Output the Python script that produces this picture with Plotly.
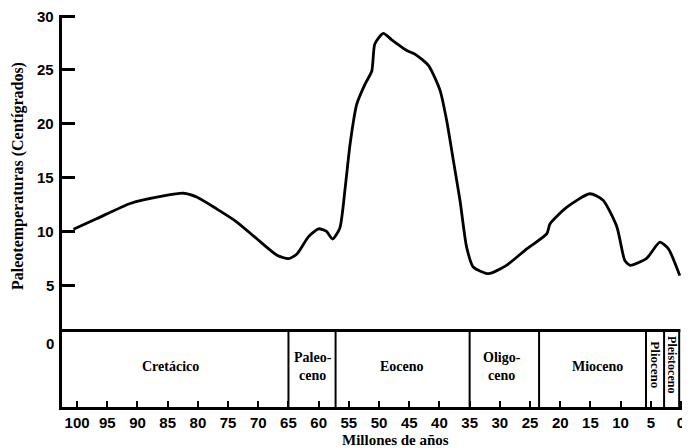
import plotly.graph_objects as go

# Data: paleotemperature curve (Ma, °C)
ages = [100.6, 96.7, 91.2, 85.7, 82.4, 80.2, 76.9, 73.6, 70.2, 66.9, 65.0, 63.6, 61.7,
        60.0, 58.7, 57.7, 56.5, 55.6, 54.8, 53.7, 52.3, 51.2, 50.7, 49.3, 47.9, 45.4,
        44.0, 41.8, 39.9, 38.8, 37.7, 36.6, 35.5, 34.4, 31.9, 28.9, 25.5, 22.2, 21.7,
        18.9, 15.1, 12.9, 10.6, 9.3, 8.4, 5.7, 3.5, 2.1, 0.2]
temps = [10.2, 11.2, 12.6, 13.3, 13.55, 13.2, 12.1, 10.9, 9.3, 7.8, 7.47, 7.9, 9.5,
         10.25, 10.0, 9.3, 10.3, 14.1, 18.1, 21.8, 23.7, 24.9, 27.4, 28.4, 27.8, 26.8,
         26.45, 25.4, 23.1, 20.3, 16.6, 12.9, 8.55, 6.7, 6.08, 6.85, 8.4, 9.8, 10.7,
         12.25, 13.5, 12.9, 10.4, 7.3, 6.85, 7.5, 9.0, 8.4, 5.9]

# Epoch boundaries (Ma) and labels
boundaries = [65.0, 57.2, 35.0, 23.5, 5.8, 2.8, 0.3]
epoch_names = ["Cretácico", "Paleo-<br>ceno", "Eoceno", "Oligo-<br>ceno", "Mioceno"]
epoch_x = [84.6, 60.9, 46.2, 29.6, 13.9]
narrow_names = ["Plioceno", "Pleistoceno"]
narrow_x = [4.2, 1.5]

xticks = list(range(0, 101, 5))
yticks = [5, 10, 15, 20, 25, 30]
ylabels = [0, 5, 10, 15, 20, 25, 30]

box_top = 0.8
box_bottom = -6.3
x_left = 102.5
x_right = -1.16

fig = go.Figure()
fig.add_trace(go.Scatter(x=ages, y=temps, mode="lines",
                         line=dict(color="black", width=2.8, shape="spline", smoothing=0.6),
                         hoverinfo="skip", showlegend=False))

# box top line
fig.add_shape(type="line", x0=x_left, x1=0.1, y0=box_top, y1=box_top,
              line=dict(color="black", width=3))
for b in boundaries:
    fig.add_shape(type="line", x0=b, x1=b, y0=box_bottom, y1=box_top,
                  line=dict(color="black", width=2))

serif = "Liberation Serif"
sans = "Liberation Sans"
for name, xv in zip(epoch_names, epoch_x):
    fig.add_annotation(x=xv, y=-2.5, text=name, showarrow=False,
                       font=dict(family=serif, size=14, color="black", weight="bold"),
                       align="center")
for name, xv, fs in zip(narrow_names, narrow_x, [13, 12]):
    fig.add_annotation(x=xv, y=-2.4, text=name, showarrow=False, textangle=90,
                       font=dict(family=serif, size=fs, color="black", weight="bold"))

# y tick labels, placed close to the axis line as in the original
for v in ylabels:
    fig.add_annotation(x=0, xref="paper", xanchor="right", xshift=-6,
                       y=(v - 0.4) if v == 0 else v, yanchor="middle", text=str(v),
                       showarrow=False,
                       font=dict(family=sans, size=15, color="black", weight="bold"))

# axis titles (paper coords relative to plot area 62..688 x 15..407 in page pixels)
fig.add_annotation(x=(395 - 62) / 626, y=-(440 - 407) / 392, xref="paper", yref="paper",
                   text="Millones de años", showarrow=False,
                   xanchor="center", yanchor="middle",
                   font=dict(family=serif, size=15, color="black", weight="bold"))
fig.add_annotation(x=-(62 - 18) / 626, y=(407 - 176) / 392, xref="paper", yref="paper",
                   text="Paleotemperaturas (Centígrados)", showarrow=False, textangle=-90,
                   xanchor="center", yanchor="middle",
                   font=dict(family=serif, size=16, color="black", weight="bold"))

fig.update_xaxes(range=[x_left, x_right], tickvals=xticks, ticktext=[str(t) for t in xticks],
                 ticks="inside", ticklen=6, tickwidth=2, tickcolor="black",
                 showline=True, linecolor="black", linewidth=2.5, showgrid=False,
                 zeroline=False, automargin=False,
                 tickfont=dict(family=sans, size=15, color="black", weight="bold"))
fig.update_yaxes(range=[box_bottom, 30.1], tickvals=yticks, showticklabels=False,
                 ticks="inside", ticklen=13, tickwidth=2.5, tickcolor="black",
                 showline=True, linecolor="black", linewidth=2.5, showgrid=False,
                 zeroline=False, automargin=False)

# page body has an 8px offset; margins compensate so the plot area sits at 62..688 x 15..407
fig.update_layout(width=690, height=448, margin=dict(l=54, r=10, t=7, b=49),
                  paper_bgcolor="white", plot_bgcolor="white")

fig.write_html("out.html")
